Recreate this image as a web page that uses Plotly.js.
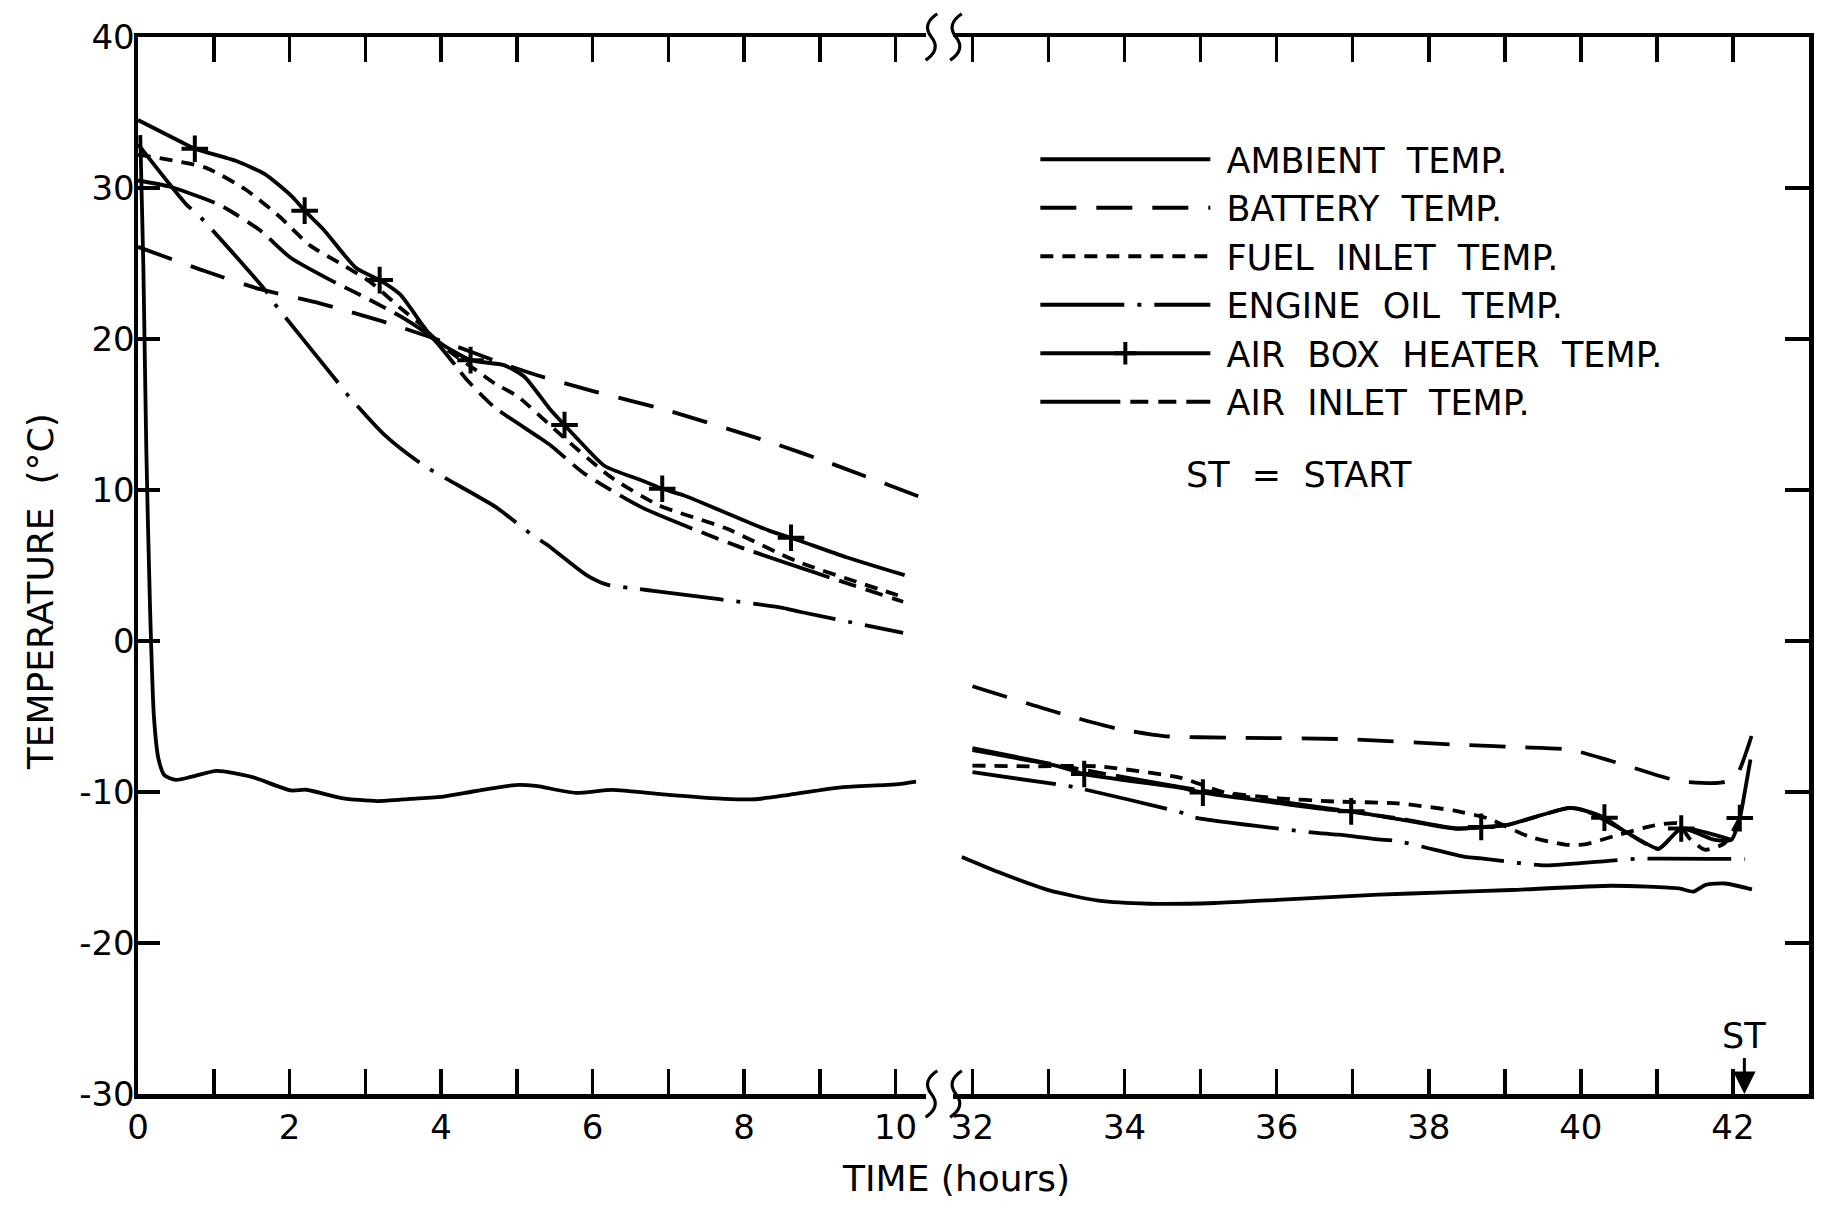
<!DOCTYPE html>
<html>
<head>
<meta charset="utf-8">
<script src="https://cdn.plot.ly/plotly-3.0.1.min.js"></script>
<style>html,body{margin:0;padding:0;background:#fff;}#chart{width:1839px;height:1210px;}</style>
</head>
<body>
<div id="chart"></div>
<script>
// ---------- data (time in hours, temperature in °C) ----------
const ambientLeftX = [0.03, 0.07, 0.11, 0.16, 0.21, 0.27, 0.35, 0.5, 0.7, 1.04, 1.5, 2.02, 2.22, 2.69, 3.16, 3.6, 4.03, 4.44, 4.98, 5.25, 5.78, 6.26, 6.93, 7.74, 8.14, 8.61, 9.28, 10.0, 10.27];
const ambientLeftY = [33.5, 25.0, 12.6, 2.0, -5.0, -7.8, -8.9, -9.2, -9.0, -8.6, -9.0, -9.9, -9.85, -10.4, -10.6, -10.45, -10.3, -9.95, -9.54, -9.6, -10.06, -9.86, -10.15, -10.45, -10.48, -10.17, -9.69, -9.5, -9.31];
const ambientRightX = [31.86, 32.34, 33.0, 33.66, 34.32, 35.19, 36.07, 37.34, 38.2, 39.09, 40.41, 41.29, 41.48, 41.64, 41.9, 42.25];
const ambientRightY = [-14.3, -15.3, -16.5, -17.2, -17.4, -17.35, -17.13, -16.8, -16.65, -16.49, -16.21, -16.39, -16.6, -16.15, -16.06, -16.45];

const batteryLeftX = [0, 0.88, 1.61, 2.4, 3.22, 3.99, 4.81, 5.27, 6.04, 6.95, 8.41, 9.11, 10.37];
const batteryLeftY = [26.1, 24.5, 23.3, 22.36, 21.18, 19.9, 18.38, 17.6, 16.5, 15.33, 13.06, 11.83, 9.45];
const batteryRightX = [32.0, 33.16, 33.9, 34.52, 35.39, 36.89, 38.4, 39.19, 39.85, 40.39, 41.29, 41.86, 42.04, 42.25];
const batteryRightY = [-3.0, -4.8, -5.8, -6.3, -6.4, -6.5, -6.87, -7.03, -7.19, -7.93, -9.27, -9.37, -8.97, -6.2];

const fuelLeftX = [0, 0.14, 0.89, 1.42, 1.87, 2.27, 2.67, 3.06, 3.46, 3.77, 4.0, 4.5, 4.71, 5.01, 5.57, 6.23, 6.87, 7.76, 8.69, 10.03];
const fuelLeftY = [32.2, 32.1, 31.35, 29.9, 28.1, 26.2, 25.0, 23.8, 22.07, 20.8, 19.6, 17.8, 17.05, 16.2, 13.7, 10.9, 9.0, 7.46, 5.29, 3.03];
const fuelRightX = [32.0, 32.8, 33.64, 34.74, 35.3, 36.0, 36.76, 37.59, 38.34, 38.78, 39.31, 39.79, 40.05, 40.45, 40.97, 41.28, 41.43, 41.63, 41.89, 42.09];
const fuelRightY = [-8.25, -8.3, -8.3, -9.06, -10.0, -10.4, -10.63, -10.75, -11.24, -11.75, -12.94, -13.48, -13.47, -12.9, -12.21, -12.09, -13.08, -13.82, -13.39, -11.73];

const oilLeftX = [0, 0.64, 0.8, 1.7, 1.81, 2.61, 2.75, 3.25, 3.75, 4.72, 5.2, 5.4, 5.91, 6.18, 6.62, 6.83, 8.51, 8.75, 10.1];
const oilLeftY = [32.9, 28.9, 28.2, 23.1, 22.3, 17.3, 16.4, 13.67, 11.7, 8.88, 7.03, 6.37, 4.4, 3.75, 3.44, 3.3, 2.2, 1.92, 0.54];
const oilRightX = [32.0, 33.12, 33.33, 34.76, 34.93, 36.56, 36.82, 37.33, 37.59, 38.48, 38.69, 39.53, 40.36, 40.71, 42.16];
const oilRightY = [-8.69, -9.5, -9.67, -11.38, -11.7, -12.73, -12.83, -13.14, -13.25, -14.3, -14.4, -14.86, -14.56, -14.43, -14.44];

const heaterLeftX = [0, 0.59, 0.75, 1.29, 1.68, 2.04, 2.2, 2.44, 2.88, 3.19, 3.46, 3.82, 4.0, 4.39, 4.83, 5.1, 5.43, 5.63, 5.83, 6.16, 6.67, 6.92, 7.2, 8.33, 8.62, 9.35, 10.12];
const heaterLeftY = [34.5, 33.0, 32.6, 31.8, 30.9, 29.4, 28.5, 27.3, 24.7, 23.9, 22.95, 20.5, 19.7, 18.6, 18.27, 17.5, 15.4, 14.3, 13.23, 11.59, 10.6, 10.08, 9.65, 7.31, 6.84, 5.55, 4.36];
const heaterLeftPlus = [0,0,1,0,0,0,1,0,0,1,0,0,0,1,0,0,0,1,0,0,0,1,0,0,1,0,0];
const heaterRightX = [32.0, 33.12, 33.47, 34.74, 35.03, 36.72, 36.98, 37.6, 38.36, 38.69, 39.02, 39.85, 40.07, 40.31, 40.53, 41.02, 41.11, 41.32, 41.76, 41.98, 42.09, 42.13, 42.23];
const heaterRightY = [-7.23, -8.28, -8.81, -9.72, -10.04, -11.18, -11.28, -11.8, -12.44, -12.31, -12.19, -11.05, -11.26, -11.7, -12.46, -13.76, -13.42, -12.42, -13.17, -13.16, -11.73, -10.74, -7.85];
const heaterRightPlus = [0,0,1,0,1,0,1,0,0,1,0,0,0,1,0,0,0,1,0,0,1,0,0];

const airLeftX = [0, 0.41, 1.07, 1.61, 2.01, 2.58, 2.98, 3.5, 3.9, 4.35, 4.7, 5.29, 5.46, 5.88, 6.65, 7.93, 10.1];
const airLeftY = [30.5, 30.1, 28.9, 27.2, 25.4, 23.8, 22.8, 21.4, 20.0, 17.25, 15.5, 13.5, 12.9, 11.13, 8.85, 6.25, 2.6];
const airRightX = [32.0, 33.1, 34.7, 36.7, 37.6, 38.36, 39.02, 39.85, 40.07, 40.53, 41.02, 41.32, 41.98];
const airRightY = [-7.1, -8.2, -9.65, -11.1, -11.75, -12.4, -12.19, -11.05, -11.26, -12.46, -13.76, -12.42, -13.16];

const seriesNames = ['\u00a0AMBIENT\u00a0 TEMP.', '\u00a0BATTERY\u00a0 TEMP.', '\u00a0FUEL\u00a0 INLET\u00a0 TEMP.', '\u00a0ENGINE\u00a0 OIL\u00a0 TEMP.', '\u00a0AIR\u00a0 BOX\u00a0 HEATER\u00a0 TEMP.', '\u00a0AIR\u00a0 INLET\u00a0 TEMP.'];
const yTickVals = [-30, -20, -10, 0, 10, 20, 30, 40];
const yTickText = ['-30', '-20', '-10', '0', '10', '20', '30', '40'];
const startTime = 42.15;

// ---------- styling ----------
const FONT = 'DejaVu Sans, Liberation Sans, sans-serif';
const LW = 3.8;
const dashes = {
  ambient: 'solid',
  battery: '36px,20px',
  fuel: '13px,9px',
  oil: '84px,13px,4px,13px',
  heater: 'solid',
  air: '80px,10px,18px,10px,18px,10px'
};

function seg(x, y, name, dash, left, extra) {
  const t = {
    type: 'scatter', mode: 'lines', x: x, y: y, name: name,
    xaxis: left ? 'x' : 'x2', yaxis: left ? 'y' : 'y2',
    line: {color: '#000', width: LW, dash: dash, shape: 'spline', smoothing: 0.6},
    showlegend: !!left, hoverinfo: 'skip'
  };
  return Object.assign(t, extra || {});
}
function plusExtra(flags) {
  return {
    mode: 'lines+markers',
    marker: {symbol: 'cross-thin', size: 19, color: '#000', opacity: 1, line: {color: '#000', width: 4}},
    selectedpoints: flags.map((f, i) => f ? i : -1).filter(i => i >= 0),
    selected: {marker: {opacity: 1}},
    unselected: {marker: {opacity: 0}}
  };
}

const traces = [
  seg(ambientLeftX, ambientLeftY, seriesNames[0], dashes.ambient, true),
  seg(batteryLeftX, batteryLeftY, seriesNames[1], dashes.battery, true),
  seg(fuelLeftX, fuelLeftY, seriesNames[2], dashes.fuel, true),
  seg(oilLeftX, oilLeftY, seriesNames[3], dashes.oil, true),
  seg(heaterLeftX, heaterLeftY, seriesNames[4], dashes.heater, true, plusExtra(heaterLeftPlus)),
  seg(airLeftX, airLeftY, seriesNames[5], dashes.air, true),
  seg(ambientRightX, ambientRightY, seriesNames[0], dashes.ambient, false),
  seg(batteryRightX, batteryRightY, seriesNames[1], dashes.battery, false),
  seg(fuelRightX, fuelRightY, seriesNames[2], dashes.fuel, false),
  seg(oilRightX, oilRightY, seriesNames[3], dashes.oil, false),
  seg(airRightX, airRightY, seriesNames[5], dashes.air, false),
  seg(heaterRightX, heaterRightY, seriesNames[4], dashes.heater, false, plusExtra(heaterRightPlus))
];

const xCommon = {
  showgrid: false, zeroline: false, showline: true, linecolor: '#000', linewidth: 4.5,
  mirror: 'ticks', ticks: 'inside', ticklen: 25, tickwidth: 3.5, tickcolor: '#000',
  tickmode: 'linear', dtick: 2, ticklabelstandoff: 0,
  minor: {ticks: 'inside', ticklen: 25, tickwidth: 3.5, tickcolor: '#000', dtick: 1, showgrid: false},
  tickfont: {family: FONT, size: 34, color: '#000'}, fixedrange: true
};
const yCommon = {
  range: [-30, 40], autorange: false, showgrid: false, zeroline: false, showline: true,
  linecolor: '#000', linewidth: 4.5, ticks: 'inside', tickwidth: 3.5, tickcolor: '#000',
  tickmode: 'array', tickvals: yTickVals, ticktext: yTickText,
  tickfont: {family: FONT, size: 34, color: '#000'}, fixedrange: true
};

function brk(x, y) {
  return {type: 'path', xref: 'paper', yref: 'paper',
    path: `M ${x - 0.0035},${y - 0.022} Q ${x + 0.006},${y - 0.012} ${x},${y} T ${x + 0.0035},${y + 0.022}`,
    line: {color: '#000', width: 3.2}};
}

const layout = {
  width: 1839, height: 1210,
  margin: {l: 138, r: 30, t: 37, b: 116},
  paper_bgcolor: '#fff', plot_bgcolor: '#fff',
  font: {family: FONT, color: '#000', size: 34},
  xaxis: Object.assign({}, xCommon, {domain: [0, 0.4715], range: [0, 10.4], tick0: 0, anchor: 'y'}),
  xaxis2: Object.assign({}, xCommon, {domain: [0.488, 1], range: [31.75, 43], tick0: 32, anchor: 'y2',
    minor: Object.assign({}, xCommon.minor, {tick0: 32})}),
  yaxis: Object.assign({}, yCommon, {anchor: 'x', side: 'left', ticklen: 22, ticklabelstandoff: -8}),
  yaxis2: Object.assign({}, yCommon, {anchor: 'x2', side: 'right', overlaying: 'y', ticklen: 24, showticklabels: false}),
  showlegend: true,
  legend: {x: 0.537, y: 0.912, xanchor: 'left', yanchor: 'top', bgcolor: 'rgba(0,0,0,0)', borderwidth: 0,
    font: {family: FONT, size: 35, color: '#000'}, itemwidth: 170, itemsizing: 'trace', tracegroupgap: 0},
  shapes: [brk(0.4748, 0), brk(0.4895, 0), brk(0.4748, 1), brk(0.4895, 1)],
  annotations: [
    {text: 'TIME (hours)', xref: 'paper', yref: 'paper', x: 0.4897, y: -0.0804, showarrow: false,
      xanchor: 'center', yanchor: 'middle', font: {family: FONT, size: 36, color: '#000'}},
    {text: 'TEMPERATURE\u00a0 (°C)', xref: 'paper', yref: 'paper', x: -0.0579, y: 0.475, showarrow: false,
      textangle: -90, xanchor: 'center', yanchor: 'middle', font: {family: FONT, size: 36, color: '#000'}},
    {text: 'ST\u00a0 =\u00a0 START', xref: 'paper', yref: 'paper', x: 0.695, y: 0.5856, showarrow: false,
      xanchor: 'center', yanchor: 'middle', font: {family: FONT, size: 35, color: '#000'}},
    {text: 'ST', xref: 'x2', yref: 'y2', x: startTime, y: -30, ax: 0, ay: -36, showarrow: true,
      arrowhead: 2, arrowsize: 1.5, arrowwidth: 3, arrowcolor: '#000', yanchor: 'bottom',
      font: {family: FONT, size: 35, color: '#000'}}
  ]
};

Plotly.newPlot('chart', traces, layout, {displayModeBar: false, staticPlot: true});
</script>
</body>
</html>
